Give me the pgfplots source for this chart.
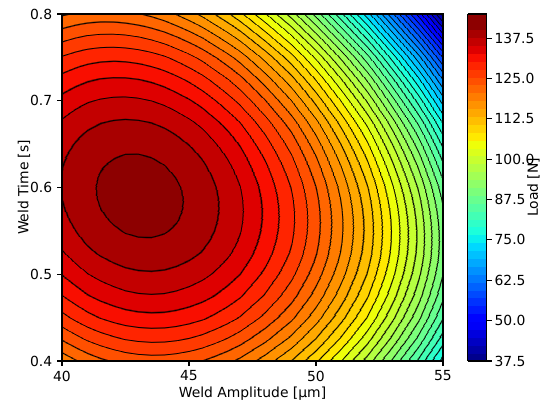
\documentclass[border=0pt]{standalone}
\usepackage{fontspec}
\setmainfont{DejaVu Sans}
\usepackage{pgfplots}
\pgfplotsset{compat=1.18}
\pgfplotsset{/pgf/number format/assume math mode=true}

% matplotlib jet, one colour per 2.5 N band (37.5 ... 145)
\pgfplotsset{
  colormap={jetlines}{
    rgb255(0pt)=(0,0,0)
    rgb255(1pt)=(0,0,141) rgb255(31pt)=(0,0,141) rgb255(40pt)=(0,0,0)
    rgb255(49pt)=(0,0,168) rgb255(71pt)=(0,0,168) rgb255(80pt)=(0,0,0)
    rgb255(89pt)=(0,0,195) rgb255(111pt)=(0,0,195) rgb255(120pt)=(0,0,0)
    rgb255(129pt)=(0,0,222) rgb255(152pt)=(0,0,222) rgb255(160pt)=(0,0,0)
    rgb255(168pt)=(0,0,249) rgb255(192pt)=(0,0,249) rgb255(200pt)=(0,0,0)
    rgb255(208pt)=(0,3,255) rgb255(232pt)=(0,3,255) rgb255(240pt)=(0,0,0)
    rgb255(248pt)=(0,27,255) rgb255(272pt)=(0,27,255) rgb255(280pt)=(0,0,0)
    rgb255(288pt)=(0,50,255) rgb255(312pt)=(0,50,255) rgb255(320pt)=(0,0,0)
    rgb255(328pt)=(0,74,255) rgb255(352pt)=(0,74,255) rgb255(360pt)=(0,0,0)
    rgb255(368pt)=(0,98,255) rgb255(392pt)=(0,98,255) rgb255(400pt)=(0,0,0)
    rgb255(408pt)=(0,122,255) rgb255(432pt)=(0,122,255) rgb255(440pt)=(0,0,0)
    rgb255(448pt)=(0,145,255) rgb255(472pt)=(0,145,255) rgb255(480pt)=(0,0,0)
    rgb255(488pt)=(0,169,255) rgb255(513pt)=(0,169,255) rgb255(520pt)=(0,0,0)
    rgb255(527pt)=(0,193,255) rgb255(553pt)=(0,193,255) rgb255(560pt)=(0,0,0)
    rgb255(567pt)=(0,216,255) rgb255(593pt)=(0,216,255) rgb255(600pt)=(0,0,0)
    rgb255(607pt)=(9,240,238) rgb255(633pt)=(9,240,238) rgb255(640pt)=(0,0,0)
    rgb255(647pt)=(28,255,219) rgb255(673pt)=(28,255,219) rgb255(680pt)=(0,0,0)
    rgb255(687pt)=(47,255,200) rgb255(713pt)=(47,255,200) rgb255(720pt)=(0,0,0)
    rgb255(727pt)=(66,255,181) rgb255(753pt)=(66,255,181) rgb255(760pt)=(0,0,0)
    rgb255(767pt)=(85,255,162) rgb255(794pt)=(85,255,162) rgb255(800pt)=(0,0,0)
    rgb255(806pt)=(104,255,143) rgb255(834pt)=(104,255,143) rgb255(840pt)=(0,0,0)
    rgb255(846pt)=(123,255,123) rgb255(874pt)=(123,255,123) rgb255(880pt)=(0,0,0)
    rgb255(886pt)=(143,255,104) rgb255(914pt)=(143,255,104) rgb255(920pt)=(0,0,0)
    rgb255(926pt)=(162,255,85) rgb255(954pt)=(162,255,85) rgb255(960pt)=(0,0,0)
    rgb255(966pt)=(181,255,66) rgb255(994pt)=(181,255,66) rgb255(1000pt)=(0,0,0)
    rgb255(1006pt)=(200,255,47) rgb255(1034pt)=(200,255,47) rgb255(1040pt)=(0,0,0)
    rgb255(1046pt)=(219,255,28) rgb255(1075pt)=(219,255,28) rgb255(1080pt)=(0,0,0)
    rgb255(1085pt)=(238,255,9) rgb255(1115pt)=(238,255,9) rgb255(1120pt)=(0,0,0)
    rgb255(1125pt)=(255,233,0) rgb255(1155pt)=(255,233,0) rgb255(1160pt)=(0,0,0)
    rgb255(1165pt)=(255,212,0) rgb255(1195pt)=(255,212,0) rgb255(1200pt)=(0,0,0)
    rgb255(1205pt)=(255,190,0) rgb255(1235pt)=(255,190,0) rgb255(1240pt)=(0,0,0)
    rgb255(1245pt)=(255,168,0) rgb255(1276pt)=(255,168,0) rgb255(1280pt)=(0,0,0)
    rgb255(1284pt)=(255,146,0) rgb255(1316pt)=(255,146,0) rgb255(1320pt)=(0,0,0)
    rgb255(1324pt)=(255,124,0) rgb255(1356pt)=(255,124,0) rgb255(1360pt)=(0,0,0)
    rgb255(1364pt)=(255,102,0) rgb255(1396pt)=(255,102,0) rgb255(1400pt)=(0,0,0)
    rgb255(1404pt)=(255,80,0) rgb255(1437pt)=(255,80,0) rgb255(1440pt)=(0,0,0)
    rgb255(1443pt)=(255,58,0) rgb255(1477pt)=(255,58,0) rgb255(1480pt)=(0,0,0)
    rgb255(1483pt)=(255,36,0) rgb255(1517pt)=(255,36,0) rgb255(1520pt)=(0,0,0)
    rgb255(1523pt)=(249,14,0) rgb255(1557pt)=(249,14,0) rgb255(1560pt)=(0,0,0)
    rgb255(1563pt)=(222,0,0) rgb255(1598pt)=(222,0,0) rgb255(1600pt)=(0,0,0)
    rgb255(1602pt)=(195,0,0) rgb255(1638pt)=(195,0,0) rgb255(1640pt)=(0,0,0)
    rgb255(1642pt)=(168,0,0) rgb255(1679pt)=(168,0,0) rgb255(1680pt)=(0,0,0)
    rgb255(1681pt)=(141,0,0) rgb255(1719pt)=(141,0,0) rgb255(1720pt)=(0,0,0)
  },
  colormap={jetbands}{
    rgb255=(0,0,141) rgb255=(0,0,168) rgb255=(0,0,195) rgb255=(0,0,222)
    rgb255=(0,0,249) rgb255=(0,3,255) rgb255=(0,27,255) rgb255=(0,50,255)
    rgb255=(0,74,255) rgb255=(0,98,255) rgb255=(0,122,255) rgb255=(0,145,255)
    rgb255=(0,169,255) rgb255=(0,193,255) rgb255=(0,216,255) rgb255=(9,240,238)
    rgb255=(28,255,219) rgb255=(47,255,200) rgb255=(66,255,181) rgb255=(85,255,162)
    rgb255=(104,255,143) rgb255=(123,255,123) rgb255=(143,255,104) rgb255=(162,255,85)
    rgb255=(181,255,66) rgb255=(200,255,47) rgb255=(219,255,28) rgb255=(238,255,9)
    rgb255=(255,233,0) rgb255=(255,212,0) rgb255=(255,190,0) rgb255=(255,168,0)
    rgb255=(255,146,0) rgb255=(255,124,0) rgb255=(255,102,0) rgb255=(255,80,0)
    rgb255=(255,58,0) rgb255=(255,36,0) rgb255=(249,14,0) rgb255=(222,0,0)
    rgb255=(195,0,0) rgb255=(168,0,0) rgb255=(141,0,0) rgb255=(141,0,0)
  },
}

\begin{document}
\begin{tikzpicture}
\begin{axis}[
  scale only axis, width=274.3pt, height=249.8pt,
  xmin=40, xmax=55, ymin=0.4, ymax=0.8,
  xtick={40,45,50,55}, ytick={0.4,0.5,0.6,0.7,0.8},
  xtick pos=bottom, ytick pos=left,
  tick align=outside, major tick length=3.5pt,
  tick style={line width=0.8pt, black},
  axis line style={line width=0.8pt},
  yticklabel style={/pgf/number format/fixed, /pgf/number format/precision=1},
  xlabel={Weld Amplitude [µm]}, ylabel={Weld Time [s]},
  xlabel shift=-2.5pt, ylabel shift=-7pt,
  axis on top,
  colormap name=jetbands, colormap access=piecewise constant,
  point meta min=37.5, point meta max=145,
  colorbar,
  colorbar style={
    colormap name=jetbands, colormap access=piecewise constant,
    at={(parent axis.north east)}, anchor=north west, xshift=9.4pt,
    scale only axis, width=13.7pt, height=249.8pt,
    ytick={37.5,50,62.5,75,87.5,100,112.5,125,137.5},
    yticklabel style={/pgf/number format/.cd, fixed, fixed zerofill, precision=1},
    ytick pos=right, yticklabel pos=right, yticklabel shift=-1.5pt,
    ylabel={Load [N]},
    every axis y label/.style={at={(axis description cs:3.45,0.5)}, anchor=center, rotate=90},
    tick align=outside, major tick length=3.5pt,
    tick style={line width=0.8pt, black},
    axis line style={line width=0.8pt},
  },
]
\addplot[surf, shader=interp, mesh/cols=23, colormap name=jetlines, colormap access=map,
  point meta=explicit] table[row sep=\\, x=a, y=t, meta=f] {
a t f\\
40 0.4 120.76\\ 40.5 0.4 122.18\\ 41 0.4 123.38\\ 41.5 0.4 124.39\\ 42 0.4 125.17\\ 42.5 0.4 125.75\\ 43 0.4 126.12\\ 43.5 0.4 126.28\\ 44 0.4 126.24\\ 44.5 0.4 125.99\\ 45 0.4 125.54\\ 45.5 0.4 124.90\\ 46 0.4 124.05\\ 46.5 0.4 123.02\\ 47 0.4 121.78\\ 48 0.4 118.70\\ 49 0.4 114.88\\ 50 0.4 110.28\\ 51 0.4 104.93\\ 52 0.4 98.84\\ 53 0.4 92.01\\ 54 0.4 84.46\\ 55 0.4 76.17\\
40 0.425 125.22\\ 40.5 0.425 126.60\\ 41 0.425 127.76\\ 41.5 0.425 128.73\\ 42 0.425 129.48\\ 42.5 0.425 130.04\\ 43 0.425 130.39\\ 43.5 0.425 130.55\\ 44 0.425 130.49\\ 44.5 0.425 130.24\\ 45 0.425 129.80\\ 45.5 0.425 129.15\\ 46 0.425 128.32\\ 46.5 0.425 127.29\\ 47 0.425 126.07\\ 48 0.425 123.04\\ 49 0.425 119.27\\ 50 0.425 114.74\\ 51 0.425 109.46\\ 52 0.425 103.45\\ 53 0.425 96.71\\ 54 0.425 89.24\\ 55 0.425 81.04\\
40 0.45 129.11\\ 40.5 0.45 130.44\\ 41 0.45 131.56\\ 41.5 0.45 132.49\\ 42 0.45 133.21\\ 42.5 0.45 133.74\\ 43 0.45 134.07\\ 43.5 0.45 134.20\\ 44 0.45 134.14\\ 44.5 0.45 133.88\\ 45 0.45 133.42\\ 45.5 0.45 132.77\\ 46 0.45 131.94\\ 46.5 0.45 130.92\\ 47 0.45 129.70\\ 48 0.45 126.69\\ 49 0.45 122.95\\ 50 0.45 118.44\\ 51 0.45 113.21\\ 52 0.45 107.24\\ 53 0.45 100.54\\ 54 0.45 93.11\\ 55 0.45 84.95\\
40 0.475 132.41\\ 40.5 0.475 133.69\\ 41 0.475 134.77\\ 41.5 0.475 135.66\\ 42 0.475 136.35\\ 42.5 0.475 136.85\\ 43 0.475 137.15\\ 43.5 0.475 137.26\\ 44 0.475 137.17\\ 44.5 0.475 136.89\\ 45 0.475 136.42\\ 45.5 0.475 135.76\\ 46 0.475 134.92\\ 46.5 0.475 133.89\\ 47 0.475 132.66\\ 48 0.475 129.65\\ 49 0.475 125.90\\ 50 0.475 121.40\\ 51 0.475 116.17\\ 52 0.475 110.20\\ 53 0.475 103.50\\ 54 0.475 96.07\\ 55 0.475 87.91\\
40 0.5 135.13\\ 40.5 0.5 136.36\\ 41 0.5 137.40\\ 41.5 0.5 138.25\\ 42 0.5 138.89\\ 42.5 0.5 139.36\\ 43 0.5 139.63\\ 43.5 0.5 139.71\\ 44 0.5 139.59\\ 44.5 0.5 139.29\\ 45 0.5 138.80\\ 45.5 0.5 138.12\\ 46 0.5 137.25\\ 46.5 0.5 136.20\\ 47 0.5 134.96\\ 48 0.5 131.91\\ 49 0.5 128.14\\ 50 0.5 123.61\\ 51 0.5 118.34\\ 52 0.5 112.34\\ 53 0.5 105.60\\ 54 0.5 98.12\\ 55 0.5 89.90\\
40 0.5125 136.27\\ 40.5 0.5125 137.48\\ 41 0.5125 138.49\\ 41.5 0.5125 139.32\\ 42 0.5125 139.94\\ 42.5 0.5125 140.39\\ 43 0.5125 140.64\\ 43.5 0.5125 140.71\\ 44 0.5125 140.58\\ 44.5 0.5125 140.26\\ 45 0.5125 139.75\\ 45.5 0.5125 139.06\\ 46 0.5125 138.18\\ 46.5 0.5125 137.12\\ 47 0.5125 135.86\\ 48 0.5125 132.79\\ 49 0.5125 128.99\\ 50 0.5125 124.43\\ 51 0.5125 119.13\\ 52 0.5125 113.10\\ 53 0.5125 106.32\\ 54 0.5125 98.81\\ 55 0.5125 90.54\\
40 0.525 137.27\\ 40.5 0.525 138.45\\ 41 0.525 139.44\\ 41.5 0.525 140.25\\ 42 0.525 140.85\\ 42.5 0.525 141.28\\ 43 0.525 141.51\\ 43.5 0.525 141.55\\ 44 0.525 141.41\\ 44.5 0.525 141.07\\ 45 0.525 140.55\\ 45.5 0.525 139.84\\ 46 0.525 138.94\\ 46.5 0.525 137.87\\ 47 0.525 136.60\\ 48 0.525 133.49\\ 49 0.525 129.66\\ 50 0.525 125.06\\ 51 0.525 119.73\\ 52 0.525 113.66\\ 53 0.525 106.83\\ 54 0.525 99.26\\ 55 0.525 90.94\\
40 0.5375 138.11\\ 40.5 0.5375 139.28\\ 41 0.5375 140.24\\ 41.5 0.5375 141.02\\ 42 0.5375 141.61\\ 42.5 0.5375 142.01\\ 43 0.5375 142.22\\ 43.5 0.5375 142.25\\ 44 0.5375 142.08\\ 44.5 0.5375 141.73\\ 45 0.5375 141.19\\ 45.5 0.5375 140.46\\ 46 0.5375 139.55\\ 46.5 0.5375 138.45\\ 47 0.5375 137.16\\ 48 0.5375 134.02\\ 49 0.5375 130.15\\ 50 0.5375 125.51\\ 51 0.5375 120.13\\ 52 0.5375 114.00\\ 53 0.5375 107.12\\ 54 0.5375 99.49\\ 55 0.5375 91.10\\
40 0.55 138.82\\ 40.5 0.55 139.95\\ 41 0.55 140.89\\ 41.5 0.55 141.66\\ 42 0.55 142.22\\ 42.5 0.55 142.60\\ 43 0.55 142.79\\ 43.5 0.55 142.80\\ 44 0.55 142.61\\ 44.5 0.55 142.24\\ 45 0.55 141.67\\ 45.5 0.55 140.92\\ 46 0.55 139.99\\ 46.5 0.55 138.87\\ 47 0.55 137.57\\ 48 0.55 134.38\\ 49 0.55 130.46\\ 50 0.55 125.77\\ 51 0.55 120.33\\ 52 0.55 114.15\\ 53 0.55 107.20\\ 54 0.55 99.49\\ 55 0.55 91.02\\
40 0.5625 139.38\\ 40.5 0.5625 140.49\\ 41 0.5625 141.40\\ 41.5 0.5625 142.14\\ 42 0.5625 142.68\\ 42.5 0.5625 143.04\\ 43 0.5625 143.21\\ 43.5 0.5625 143.19\\ 44 0.5625 142.98\\ 44.5 0.5625 142.59\\ 45 0.5625 142.00\\ 45.5 0.5625 141.23\\ 46 0.5625 140.27\\ 46.5 0.5625 139.13\\ 47 0.5625 137.80\\ 48 0.5625 134.56\\ 49 0.5625 130.59\\ 50 0.5625 125.84\\ 51 0.5625 120.34\\ 52 0.5625 114.08\\ 53 0.5625 107.06\\ 54 0.5625 99.26\\ 55 0.5625 90.69\\
40 0.575 139.79\\ 40.5 0.575 140.87\\ 41 0.575 141.76\\ 41.5 0.575 142.48\\ 42 0.575 142.99\\ 42.5 0.575 143.33\\ 43 0.575 143.48\\ 43.5 0.575 143.44\\ 44 0.575 143.20\\ 44.5 0.575 142.78\\ 45 0.575 142.17\\ 45.5 0.575 141.38\\ 46 0.575 140.39\\ 46.5 0.575 139.23\\ 47 0.575 137.87\\ 48 0.575 134.57\\ 49 0.575 130.54\\ 50 0.575 125.72\\ 51 0.575 120.15\\ 52 0.575 113.81\\ 53 0.575 106.70\\ 54 0.575 98.81\\ 55 0.575 90.13\\
40 0.5875 140.05\\ 40.5 0.5875 141.11\\ 41 0.5875 141.98\\ 41.5 0.5875 142.67\\ 42 0.5875 143.16\\ 42.5 0.5875 143.47\\ 43 0.5875 143.59\\ 43.5 0.5875 143.53\\ 44 0.5875 143.27\\ 44.5 0.5875 142.83\\ 45 0.5875 142.19\\ 45.5 0.5875 141.36\\ 46 0.5875 140.36\\ 46.5 0.5875 139.16\\ 47 0.5875 137.77\\ 48 0.5875 134.41\\ 49 0.5875 130.31\\ 50 0.5875 125.42\\ 51 0.5875 119.76\\ 52 0.5875 113.34\\ 53 0.5875 106.12\\ 54 0.5875 98.13\\ 55 0.5875 89.33\\
40 0.6 140.17\\ 40.5 0.6 141.21\\ 41 0.6 142.05\\ 41.5 0.6 142.72\\ 42 0.6 143.18\\ 42.5 0.6 143.47\\ 43 0.6 143.56\\ 43.5 0.6 143.47\\ 44 0.6 143.19\\ 44.5 0.6 142.71\\ 45 0.6 142.05\\ 45.5 0.6 141.19\\ 46 0.6 140.16\\ 46.5 0.6 138.93\\ 47 0.6 137.51\\ 48 0.6 134.08\\ 49 0.6 129.90\\ 50 0.6 124.93\\ 51 0.6 119.18\\ 52 0.6 112.66\\ 53 0.6 105.33\\ 54 0.6 97.22\\ 55 0.6 88.29\\
40 0.6125 140.15\\ 40.5 0.6125 141.16\\ 41 0.6125 141.97\\ 41.5 0.6125 142.62\\ 42 0.6125 143.05\\ 42.5 0.6125 143.31\\ 43 0.6125 143.38\\ 43.5 0.6125 143.26\\ 44 0.6125 142.95\\ 44.5 0.6125 142.45\\ 45 0.6125 141.75\\ 45.5 0.6125 140.87\\ 46 0.6125 139.80\\ 46.5 0.6125 138.54\\ 47 0.6125 137.08\\ 48 0.6125 133.57\\ 49 0.6125 129.31\\ 50 0.6125 124.25\\ 51 0.6125 118.40\\ 52 0.6125 111.77\\ 53 0.6125 104.33\\ 54 0.6125 96.08\\ 55 0.6125 87.01\\
40 0.625 139.97\\ 40.5 0.625 140.96\\ 41 0.625 141.75\\ 41.5 0.625 142.37\\ 42 0.625 142.78\\ 42.5 0.625 143.01\\ 43 0.625 143.05\\ 43.5 0.625 142.90\\ 44 0.625 142.56\\ 44.5 0.625 142.03\\ 45 0.625 141.30\\ 45.5 0.625 140.38\\ 46 0.625 139.27\\ 46.5 0.625 137.98\\ 47 0.625 136.48\\ 48 0.625 132.90\\ 49 0.625 128.54\\ 50 0.625 123.38\\ 51 0.625 117.43\\ 52 0.625 110.67\\ 53 0.625 103.10\\ 54 0.625 94.71\\ 55 0.625 85.48\\
40 0.6375 139.66\\ 40.5 0.6375 140.62\\ 41 0.6375 141.38\\ 41.5 0.6375 141.97\\ 42 0.6375 142.35\\ 42.5 0.6375 142.56\\ 43 0.6375 142.57\\ 43.5 0.6375 142.39\\ 44 0.6375 142.02\\ 44.5 0.6375 141.45\\ 45 0.6375 140.69\\ 45.5 0.6375 139.73\\ 46 0.6375 138.59\\ 46.5 0.6375 137.26\\ 47 0.6375 135.72\\ 48 0.6375 132.04\\ 49 0.6375 127.59\\ 50 0.6375 122.33\\ 51 0.6375 116.26\\ 52 0.6375 109.37\\ 53 0.6375 101.66\\ 54 0.6375 93.12\\ 55 0.6375 83.72\\
40 0.65 139.19\\ 40.5 0.65 140.13\\ 41 0.65 140.87\\ 41.5 0.65 141.43\\ 42 0.65 141.78\\ 42.5 0.65 141.96\\ 43 0.65 141.94\\ 43.5 0.65 141.73\\ 44 0.65 141.32\\ 44.5 0.65 140.72\\ 45 0.65 139.92\\ 45.5 0.65 138.93\\ 46 0.65 137.75\\ 46.5 0.65 136.37\\ 47 0.65 134.79\\ 48 0.65 131.02\\ 49 0.65 126.47\\ 50 0.65 121.08\\ 51 0.65 114.89\\ 52 0.65 107.87\\ 53 0.65 100.01\\ 54 0.65 91.30\\ 55 0.65 81.72\\
40 0.6625 138.58\\ 40.5 0.6625 139.49\\ 41 0.6625 140.21\\ 41.5 0.6625 140.74\\ 42 0.6625 141.07\\ 42.5 0.6625 141.21\\ 43 0.6625 141.16\\ 43.5 0.6625 140.92\\ 44 0.6625 140.48\\ 44.5 0.6625 139.84\\ 45 0.6625 139.00\\ 45.5 0.6625 137.97\\ 46 0.6625 136.74\\ 46.5 0.6625 135.32\\ 47 0.6625 133.69\\ 48 0.6625 129.82\\ 49 0.6625 125.16\\ 50 0.6625 119.65\\ 51 0.6625 113.32\\ 52 0.6625 106.16\\ 53 0.6625 98.13\\ 54 0.6625 89.25\\ 55 0.6625 79.48\\
40 0.675 137.83\\ 40.5 0.675 138.71\\ 41 0.675 139.40\\ 41.5 0.675 139.91\\ 42 0.675 140.20\\ 42.5 0.675 140.32\\ 43 0.675 140.23\\ 43.5 0.675 139.96\\ 44 0.675 139.48\\ 44.5 0.675 138.80\\ 45 0.675 137.92\\ 45.5 0.675 136.85\\ 46 0.675 135.58\\ 46.5 0.675 134.11\\ 47 0.675 132.43\\ 48 0.675 128.46\\ 49 0.675 123.67\\ 50 0.675 118.04\\ 51 0.675 111.56\\ 52 0.675 104.24\\ 53 0.675 96.04\\ 54 0.675 86.97\\ 55 0.675 77.00\\
40 0.6875 136.93\\ 40.5 0.6875 137.79\\ 41 0.6875 138.45\\ 41.5 0.6875 138.92\\ 42 0.6875 139.19\\ 42.5 0.6875 139.27\\ 43 0.6875 139.15\\ 43.5 0.6875 138.84\\ 44 0.6875 138.32\\ 44.5 0.6875 137.61\\ 45 0.6875 136.69\\ 45.5 0.6875 135.57\\ 46 0.6875 134.25\\ 46.5 0.6875 132.73\\ 47 0.6875 131.00\\ 48 0.6875 126.91\\ 49 0.6875 122.00\\ 50 0.6875 116.23\\ 51 0.6875 109.61\\ 52 0.6875 102.11\\ 53 0.6875 93.74\\ 54 0.6875 84.46\\ 55 0.6875 74.28\\
40 0.7 135.88\\ 40.5 0.7 136.72\\ 41 0.7 137.35\\ 41.5 0.7 137.79\\ 42 0.7 138.03\\ 42.5 0.7 138.08\\ 43 0.7 137.93\\ 43.5 0.7 137.58\\ 44 0.7 137.02\\ 44.5 0.7 136.26\\ 45 0.7 135.30\\ 45.5 0.7 134.13\\ 46 0.7 132.77\\ 46.5 0.7 131.19\\ 47 0.7 129.41\\ 48 0.7 125.20\\ 49 0.7 120.16\\ 50 0.7 114.24\\ 51 0.7 107.45\\ 52 0.7 99.78\\ 53 0.7 91.21\\ 54 0.7 81.73\\ 55 0.7 71.32\\
40 0.725 133.35\\ 40.5 0.725 134.13\\ 41 0.725 134.71\\ 41.5 0.725 135.10\\ 42 0.725 135.27\\ 42.5 0.725 135.25\\ 43 0.725 135.02\\ 43.5 0.725 134.59\\ 44 0.725 133.95\\ 44.5 0.725 133.11\\ 45 0.725 132.05\\ 45.5 0.725 130.78\\ 46 0.725 129.31\\ 46.5 0.725 127.63\\ 47 0.725 125.72\\ 48 0.725 121.25\\ 49 0.725 115.92\\ 50 0.725 109.69\\ 51 0.725 102.56\\ 52 0.725 94.51\\ 53 0.725 85.52\\ 54 0.725 75.58\\ 55 0.725 64.68\\
40 0.75 130.24\\ 40.5 0.75 130.97\\ 41 0.75 131.49\\ 41.5 0.75 131.81\\ 42 0.75 131.92\\ 42.5 0.75 131.82\\ 43 0.75 131.52\\ 43.5 0.75 131.01\\ 44 0.75 130.28\\ 44.5 0.75 129.34\\ 45 0.75 128.18\\ 45.5 0.75 126.80\\ 46 0.75 125.21\\ 46.5 0.75 123.40\\ 47 0.75 121.37\\ 48 0.75 116.62\\ 49 0.75 110.98\\ 50 0.75 104.39\\ 51 0.75 96.88\\ 52 0.75 88.41\\ 53 0.75 78.96\\ 54 0.75 68.53\\ 55 0.75 57.08\\
40 0.775 126.54\\ 40.5 0.775 127.22\\ 41 0.775 127.68\\ 41.5 0.775 127.94\\ 42 0.775 127.97\\ 42.5 0.775 127.81\\ 43 0.775 127.42\\ 43.5 0.775 126.82\\ 44 0.775 125.99\\ 44.5 0.775 124.95\\ 45 0.775 123.68\\ 45.5 0.775 122.18\\ 46 0.775 120.47\\ 46.5 0.775 118.53\\ 47 0.775 116.35\\ 48 0.775 111.29\\ 49 0.775 105.31\\ 50 0.775 98.34\\ 51 0.775 90.41\\ 52 0.775 81.48\\ 53 0.775 71.54\\ 54 0.775 60.56\\ 55 0.775 48.52\\
40 0.8 122.26\\ 40.5 0.8 122.88\\ 41 0.8 123.28\\ 41.5 0.8 123.48\\ 42 0.8 123.44\\ 42.5 0.8 123.19\\ 43 0.8 122.72\\ 43.5 0.8 122.02\\ 44 0.8 121.09\\ 44.5 0.8 119.94\\ 45 0.8 118.55\\ 45.5 0.8 116.93\\ 46 0.8 115.08\\ 46.5 0.8 113.00\\ 47 0.8 110.67\\ 48 0.8 105.28\\ 49 0.8 98.92\\ 50 0.8 91.54\\ 51 0.8 83.16\\ 52 0.8 73.73\\ 53 0.8 63.24\\ 54 0.8 51.67\\ 55 0.8 39.00\\
};
\coordinate (sw) at (rel axis cs:0,0);
\coordinate (ne) at (rel axis cs:1,1);
\end{axis}
\pgfresetboundingbox
\path[use as bounding box] ([xshift=-44.64pt,yshift=-28.8pt]sw) rectangle ([xshift=71.28pt,yshift=10.08pt]ne);
\end{tikzpicture}
\end{document}
